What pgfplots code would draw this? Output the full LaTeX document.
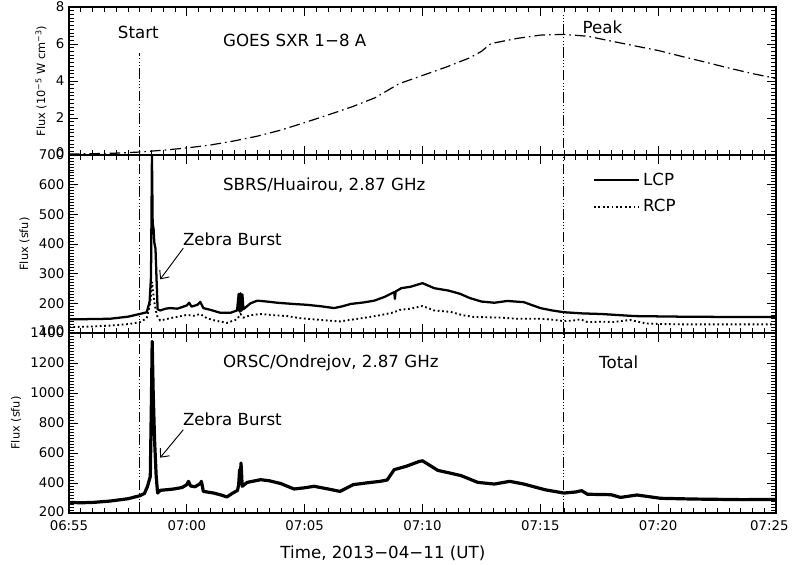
\documentclass[border=0pt]{standalone}
\usepackage{pgfplots}
\pgfplotsset{compat=1.18}
\usepackage{fontspec}
\setmainfont{DejaVu Sans}
\usetikzlibrary{arrows.meta}

\newcommand{\annot}{\fontsize{12.5}{14}\selectfont}
\tikzset{
  vline/.style={black, line width=0.6pt, dash pattern=on 8pt off 1.8pt on 0.6pt off 1.8pt on 0.6pt off 1.8pt on 0.6pt off 1.8pt},
  zebra/.style={-{Straight Barb[length=5pt,width=9pt]}, line width=0.7pt},
}
\pgfplotsset{
  panel/.style={
    scale only axis, width=530.25pt,
    xmin=0, xmax=30, xtick={0,5,...,30}, xticklabels={},
    minor x tick num=9, minor y tick num=9,
    tick align=inside, major tick length=6.5pt, minor tick length=4pt,
    axis line style={line width=0.8pt},
    every tick/.style={black, line width=0.5pt},
    /pgf/number format/assume math mode=true,
    /pgf/number format/1000 sep={},
    ticklabel style={font=\fontsize{10}{12}\selectfont},
    xticklabel style={yshift=-2pt},
    ylabel style={font=\fontsize{8.5}{10}\selectfont},
    anchor=south west,
  },
}

\begin{document}
\begin{tikzpicture}
\useasboundingbox (-51.75pt,-39pt) rectangle (543.75pt,384.75pt);

% bottom panel: ORSC total flux
\begin{axis}[panel, at={(0pt,0pt)}, height=135pt,
  ymin=200, ymax=1400, ytick={200,400,...,1400},
  yticklabels={\raisebox{2pt}{200},400,600,800,1000,1200,\raisebox{-4.5pt}{1400}},
  xticklabels={06:55,07:00,07:05,07:10,07:15,07:20,\hspace*{-10pt}07:25},
  ylabel={Flux (sfu)},
  xlabel={Time, 2013−04−11 (UT)},
  xlabel style={at={(axis description cs:0.444,0)}, anchor=center, yshift=-30pt, font=\fontsize{12.5}{14}\selectfont}]
\addplot[black, line width=2.4pt, line join=round] coordinates {
(0,271) (0.5,268) (1.06,271) (1.77,280) (2.5,295) (3.0,315) (3.2,330) (3.33,377) (3.45,444)
(3.5,977) (3.53,1344) (3.57,1022) (3.63,689) (3.7,444) (3.76,333) (3.87,351) (4.2,356)
(4.44,360) (4.8,370) (5.0,389) (5.07,411) (5.16,380) (5.35,375) (5.57,396) (5.62,411)
(5.7,344) (6.14,333) (6.45,320) (6.7,307) (6.95,333) (7.15,350) (7.2,389) (7.24,489)
(7.28,470) (7.3,533) (7.35,378) (7.56,404) (8.13,422) (8.5,415) (8.99,396) (9.55,360)
(10.0,368) (10.4,378) (11.0,360) (11.5,344) (12.06,389) (12.6,400) (13.2,411) (13.5,420)
(13.8,489) (14.3,511) (14.87,544) (15.0,548) (15.65,484) (16.2,465) (16.64,449) (17.35,404)
(18.05,393) (18.7,411) (19.3,393) (20.2,355) (21.0,333) (21.5,340) (21.75,349) (22.0,325)
(23.0,322) (23.4,304) (24.1,320) (25.1,298) (26.5,293) (28.6,289) (30,291)};
\addplot[vline] coordinates {(3,200) (3,1400)};
\addplot[vline] coordinates {(21,200) (21,1400)};
\node[anchor=west, font=\annot] at (axis cs:6.34,1202) {ORSC/Ondrejov, 2.87 GHz};
\node[anchor=west, font=\annot] at (axis cs:22.3,1202) {Total};
\node[anchor=west, font=\annot] at (axis cs:4.64,822) {Zebra Burst};
\draw[zebra] (axis cs:4.85,755) -- (axis cs:3.87,569);
\end{axis}

% middle panel: SBRS LCP / RCP
\begin{axis}[panel, at={(0pt,135pt)}, height=133.5pt,
  ymin=100, ymax=700, ytick={100,200,...,700},
  yticklabels={\raisebox{3pt}{100},200,300,400,500,600,\raisebox{-4.5pt}{700}},
  ylabel={Flux (sfu)},
  legend style={draw=none, fill=none, at={(rel axis cs:0.735,0.93)}, anchor=north west,
    font=\annot, row sep=5pt, /tikz/every even column/.style={column sep=4pt}},
  legend cell align=left,
  legend image code/.code={\draw[#1] (0pt,0pt) -- (34pt,0pt);}]
\addplot[black, line width=1.7pt, line join=round] coordinates {
(0,146) (1,147) (1.74,148) (2.5,155) (3.0,164) (3.3,170) (3.42,205) (3.48,290) (3.52,700)
(3.55,470) (3.59,450) (3.62,405) (3.67,385) (3.72,270) (3.76,180) (3.87,176) (4.1,182)
(4.3,184) (4.6,182) (5.0,193) (5.1,202) (5.2,189) (5.45,195) (5.57,205) (5.7,184) (6.0,178)
(6.43,168) (6.85,168) (7.13,176) (7.2,232) (7.24,172) (7.28,234) (7.32,175) (7.36,230)
(7.4,180) (7.46,184) (7.7,200) (7.99,209) (8.4,206) (8.84,202) (9.5,198) (10.1,195)
(10.7,190) (11.25,184) (11.6,190) (11.96,198) (12.5,203) (12.95,209) (13.4,222) (13.8,238)
(13.83,215) (13.86,240) (14.1,251) (14.5,256) (15.0,268) (15.5,251) (16.1,243) (16.6,232)
(17.0,218) (17.5,206) (18.05,202) (18.6,208) (19.3,204) (20.0,184) (20.5,176) (21.0,170)
(21.8,166) (22.6,164) (24.0,157) (26,155) (28,154) (30,154)};
\addlegendentry{LCP}
\addplot[black, line width=1.4pt, dash pattern=on 1.3pt off 2pt] coordinates {
(0,120) (1,122) (1.74,125) (2.5,130) (3.0,136) (3.3,150) (3.45,200) (3.52,272) (3.58,230)
(3.65,190) (3.73,159) (3.87,142) (4.3,150) (5.0,161) (5.3,158) (5.57,164) (5.85,150)
(6.2,142) (6.7,134) (7.13,146) (7.28,164) (7.4,152) (7.7,160) (8.13,164) (8.7,160) (9.26,157)
(9.8,150) (10.4,146) (11.0,142) (11.5,139) (12.0,145) (12.6,152) (13.2,160) (13.76,169)
(14.04,178) (14.5,182) (15.0,191) (15.5,176) (16.2,171) (16.7,160) (17.2,154) (18.3,152)
(19.0,148) (20.0,148) (20.5,145) (21.0,140) (21.4,142) (21.7,146) (22.0,137) (22.6,138)
(23.1,137) (23.8,144) (24.5,132) (25.3,130) (26.1,129) (28,129) (30,129)};
\addlegendentry{RCP}
\addplot[vline, forget plot] coordinates {(3,100) (3,700)};
\addplot[vline, forget plot] coordinates {(21,100) (21,700)};
\node[anchor=west, font=\annot] at (axis cs:6.34,600) {SBRS/Huairou, 2.87 GHz};
\node[anchor=west, font=\annot] at (axis cs:4.64,417) {Zebra Burst};
\draw[zebra] (axis cs:4.85,386) -- (axis cs:3.87,281);
\end{axis}

% top panel: GOES SXR
\begin{axis}[panel, at={(0pt,268.5pt)}, height=111pt,
  ymin=0, ymax=8, ytick={0,2,...,8},
  yticklabels={\raisebox{3pt}{0},2,4,6,\raisebox{-2pt}{8}},
  ylabel={Flux (10\textsuperscript{−5} W cm\textsuperscript{−3})}]
\addplot[black, line width=0.9pt, dash pattern=on 8pt off 3pt on 1.2pt off 3pt] coordinates {
(0,0.05) (1,0.07) (2,0.1) (3,0.16) (4,0.26) (5,0.38) (6,0.54) (7,0.76) (8,1.02) (9,1.35)
(10,1.75) (11,2.17) (12,2.6) (13,3.1) (14,3.85) (15,4.3) (16,4.75) (17,5.25) (17.5,5.6)
(17.9,6.02) (19,6.3) (20,6.48) (21,6.52) (22,6.42) (23,6.16) (24,5.9) (25,5.65) (26,5.33)
(27,5.02) (28,4.7) (29,4.4) (30,4.14)};
\addplot[vline] coordinates {(3,0.45) (3,5.5)};
\addplot[vline] coordinates {(21,0.36) (21,7.57)};
\node[font=\annot] at (axis cs:2.94,6.6) {Start};
\node[anchor=west, font=\annot] at (axis cs:6.34,6.2) {GOES SXR 1−8 A};
\node[anchor=west, font=\annot] at (axis cs:21.6,6.9) {Peak};
\end{axis}
\end{tikzpicture}
\end{document}
